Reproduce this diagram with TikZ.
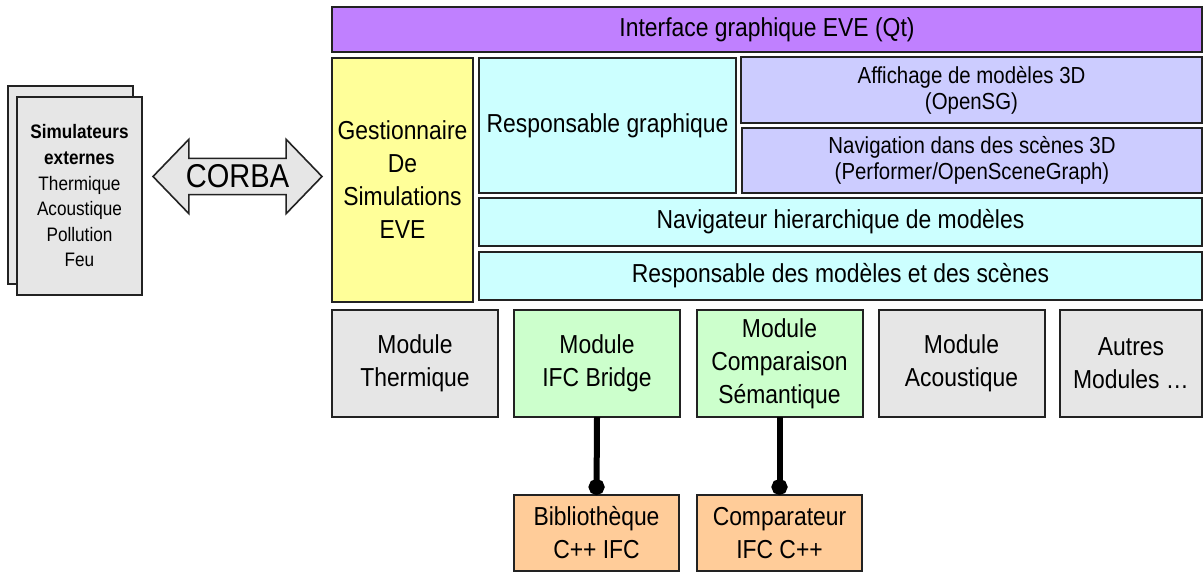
\documentclass[tikz,border=0pt]{standalone}
\usepackage{fontspec}
\setmainfont{Liberation Sans}[FakeStretch=0.88]
\usetikzlibrary{shapes.arrows,arrows.meta}
\definecolor{evepurple}{HTML}{C080FF}
\definecolor{eveyellow}{HTML}{FFFF99}
\definecolor{evecyan}{HTML}{CCFFFF}
\definecolor{evelav}{HTML}{CCCCFF}
\definecolor{evegray}{HTML}{E6E6E6}
\definecolor{evegreen}{HTML}{CCFFCC}
\definecolor{eveorange}{HTML}{FFCC99}
\definecolor{eveline}{HTML}{222222}
\begin{document}
\begin{tikzpicture}[x=0.5pt,y=-0.5pt,
  %% Generic layer box of the EVE stack
  layer/.style={draw=eveline, line width=1pt, inner sep=2pt, outer sep=0pt,
                align=center, font=\fontsize{13}{16.5}\selectfont},
  %% Smaller text (3D libraries)
  liblayer/.style={layer, font=\fontsize{11.6}{13}\selectfont},
  %% Module boxes, bottom row
  modbox/.style={layer, minimum width=83pt, minimum height=53.5pt},
  %% External C++ libraries
  extbox/.style={layer, fill=eveorange, minimum width=82.5pt, minimum height=38pt},
  %% Pages of the external simulators
  simpage/.style={draw=eveline, line width=1pt, fill=evegray,
                  minimum width=62.5pt, minimum height=99pt, outer sep=0pt},
  %% CORBA double arrow
  corbarrow/.style={double arrow, draw=eveline, line width=0.8pt, fill=evegray,
                    minimum height=84.5pt, inner xsep=0pt, inner ysep=2.8pt,
                    double arrow head extend=9.5pt, double arrow tip angle=92,
                    font=\fontsize{16.5}{18}\selectfont},
  %% Thick link module -> library
  link/.style={-{Circle[length=8pt,width=8pt]}, line width=3pt, black}
]
\useasboundingbox (0,0) rectangle (1203,572);

%% ── Top bar ───────────────────────────────────────────────
\node[layer, fill=evepurple, minimum width=435pt, minimum height=22.5pt]
  (iface) at (767,29.5) {Interface graphique EVE (Qt)};

%% ── Left column: simulation manager ──────────────────────
\node[layer, fill=eveyellow, minimum width=70.5pt, minimum height=122pt]
  (gest) at (402.5,180) {Gestionnaire\\De\\Simulations\\EVE};

%% ── Middle block ─────────────────────────────────────────
\node[layer, fill=evecyan, minimum width=128.5pt, minimum height=67.5pt]
  (respg) at (607.5,125.5) {Responsable graphique};
\node[liblayer, fill=evelav, minimum width=230.5pt, minimum height=33pt]
  (affich) at (971.5,90) {Affichage de modèles 3D\\(OpenSG)};
\node[liblayer, fill=evelav, minimum width=230pt, minimum height=32.5pt]
  (navig) at (972,160.5) {Navigation dans des scènes 3D\\(Performer/OpenSceneGraph)};
\node[layer, fill=evecyan, minimum width=361.5pt, minimum height=24pt]
  (navh) at (840.5,222) {Navigateur hierarchique de modèles};
\node[layer, fill=evecyan, minimum width=361.5pt, minimum height=24pt]
  (respm) at (840.5,276) {Responsable des modèles et des scènes};

%% ── Modules row ──────────────────────────────────────────
\node[modbox, fill=evegray]  (mtherm) at (415,363.5)   {Module\\Thermique};
\node[modbox, fill=evegreen] (mifc)   at (597,363.5)   {Module\\IFC Bridge};
\node[modbox, fill=evegreen] (mcomp)  at (779.5,363.5) {Module\\Comparaison\\Sémantique};
\node[modbox, fill=evegray]  (macou)  at (961.5,363.5) {Module\\Acoustique};
\node[modbox, fill=evegray, minimum width=71pt]
  (mautre) at (1131,363.5) {Autres\\Modules \dots};

%% ── External libraries ───────────────────────────────────
\node[extbox] (libifc)  at (596.5,533) {Bibliothèque\\C++ IFC};
\node[extbox] (compifc) at (779.5,533) {Comparateur\\IFC C++};

\draw[link] (mifc.south)  -- (libifc.north);
\draw[link] (mcomp.south) -- (compifc.north);

%% ── External simulators + CORBA ──────────────────────────
\node[simpage] (simback) at (70.5,185) {};
\node[simpage, align=center, font=\fontsize{9.75}{12.8}\selectfont]
  (simfront) at (79.5,196)
  {\textbf{Simulateurs}\\\textbf{externes}\\Thermique\\Acoustique\\Pollution\\Feu};

\node[corbarrow] (corba) at (237.5,176.5) {CORBA};

\end{tikzpicture}
\end{document}
